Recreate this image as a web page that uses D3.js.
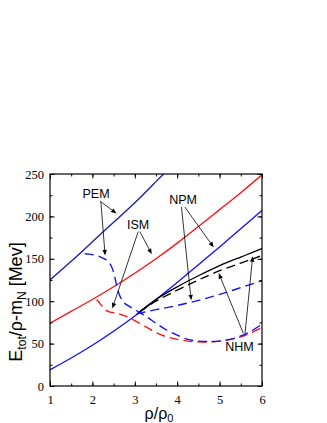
<!DOCTYPE html>
<html><head><meta charset="utf-8">
<script src="https://cdn.jsdelivr.net/npm/d3@7"></script>
<style>body{margin:0;background:#fff}svg{display:block}</style>
</head><body>
<script>
// ---- data ----
const xTicks = [1,2,3,4,5,6];
const yTicks = [0,50,100,150,200,250];
const pemSolidX = [1,1.5,2,2.5,3,3.5,3.72];
const pemSolidY = [125,147,170,193,216,241,252];
const ismSolidX = [1,1.5,2,2.5,3,3.5,4,4.5,5,5.5,6];
const ismSolidY = [74,88,102,117,133,150,168.5,188,208,228,249];
const npmSolidX = [1,1.5,2,2.5,3,3.5,4,4.5,5,5.5,6];
const npmSolidY = [19,33,48,64.5,82.5,102,122,143,164,185.5,207];
const nhmSolidX = [3.05,3.5,4,4.5,5,5.5,6];
const nhmSolidY = [85,102,117,130,142,152,162];
const nhmDashX = [3.1,3.5,4,4.5,5,5.5,5.95];
const nhmDashY = [87,100,113,125,136,145,153];
const npmDashX = [3.05,3.5,4,4.5,5,5.5,6];
const npmDashY = [85,90,95,101,108,116,124];
const pemDashX = [1.82,2.0,2.2,2.35,2.45,2.52,2.58,2.65,2.75,2.9,3.1,3.3,3.5,3.75,4.0,4.25,4.5,4.75,5.0,5.25,5.5,5.75,6.0];
const pemDashY = [156,155,152,148,141,130,117,106,98,93,87,81,74,66,60,55,53,52.5,53,55,59,65,73];
const ismDashX = [2.1,2.2,2.3,2.4,2.6,2.8,3.0,3.25,3.5,3.75,4.0,4.25,4.5,4.75,5.0,5.25,5.5,5.75,6.0];
const ismDashY = [102,96,90,87.5,85.5,82,77,70,63,58,55,53,52,52,53,55,58,63,69];
// annotation labels (data coords) and arrows [x0,y0,x1,y1]
const labels = ["PEM","ISM","NPM","NHM"];
const labelX = [2.085,3.08,4.14,5.47];
const labelY = [227,191,220.5,47];
const arrows = [
  [2.18,218,2.57,203.5],[2.2,217,2.3,154],
  [3.08,182,2.47,91.5],[3.12,182,3.4,155.5],
  [4.1,211,4.33,101],[4.18,211,4.86,163.5],
  [5.56,62,4.98,133],[5.6,62,5.78,153]
];

// ---- layout ----
const W=327,H=423;
const L=50,R=262,T=174,B=386;
const svg=d3.select("body").append("svg").attr("width",W).attr("height",H);
const x=d3.scaleLinear().domain([1,6]).range([L,R]);
const y=d3.scaleLinear().domain([0,250]).range([B,T]);
svg.append("clipPath").attr("id","c").append("rect").attr("x",L).attr("y",T).attr("width",R-L).attr("height",B-T);
const g=svg.append("g").attr("clip-path","url(#c)");
const lineSmooth=d3.line().x(d=>x(d[0])).y(d=>y(d[1])).curve(d3.curveNatural);
const lineCR=d3.line().x(d=>x(d[0])).y(d=>y(d[1])).curve(d3.curveCatmullRom.alpha(0.5));
function draw(xs,ys,color,dash,gen){
  g.append("path").datum(xs.map((v,i)=>[v,ys[i]])).attr("d",gen||lineSmooth)
   .attr("fill","none").attr("stroke",color).attr("stroke-width",1.35)
   .attr("stroke-dasharray",dash||null);
}
draw(pemSolidX,pemSolidY,"#1c1cb0");
draw(ismSolidX,ismSolidY,"#ff1010");
draw(npmSolidX,npmSolidY,"#1010ff");
draw(nhmDashX,nhmDashY,"#000","9,5");
draw(nhmSolidX,nhmSolidY,"#000");
draw(npmDashX,npmDashY,"#1010ff","9,5");
draw(ismDashX,ismDashY,"#ff1010","9,5",lineCR);
draw(pemDashX,pemDashY,"#1010ff","9,5",lineCR);

// axes box and ticks
function axis(gen,tr){
  svg.append("g").attr("transform",tr).call(gen)
    .call(s=>s.select(".domain").remove());
}
const tf="Liberation Serif, Times New Roman, serif";
const xMinor=d3.range(1,6.01,0.5), yMinor=d3.range(0,250.1,25);
axis(d3.axisBottom(x).tickValues(xMinor).tickSize(-2.5).tickFormat(""),`translate(0,${B})`);
axis(d3.axisTop(x).tickValues(xMinor).tickSize(-2.5).tickFormat(""),`translate(0,${T})`);
axis(d3.axisLeft(y).tickValues(yMinor).tickSize(-2.5).tickFormat(""),`translate(${L},0)`);
axis(d3.axisRight(y).tickValues(yMinor).tickSize(-2.5).tickFormat(""),`translate(${R},0)`);
const xb=svg.append("g").attr("transform",`translate(0,${B})`).call(d3.axisBottom(x).tickValues(xTicks).tickSize(-4.5).tickPadding(9).tickFormat(d3.format("d")));
xb.select(".domain").remove();
const yl=svg.append("g").attr("transform",`translate(${L},0)`).call(d3.axisLeft(y).tickValues(yTicks).tickSize(-4.5).tickPadding(6).tickFormat(d3.format("d")));
yl.select(".domain").remove();
svg.append("g").attr("transform",`translate(0,${T})`).call(d3.axisTop(x).tickValues(xTicks).tickSize(-4.5).tickFormat("")).select(".domain").remove();
svg.append("g").attr("transform",`translate(${R},0)`).call(d3.axisRight(y).tickValues(yTicks).tickSize(-4.5).tickFormat("")).select(".domain").remove();
svg.selectAll(".tick text").attr("font-family",tf).attr("font-size",12.5).attr("fill","#000");
svg.selectAll(".tick line").attr("stroke","#000").attr("stroke-width",1);
svg.append("rect").attr("x",L).attr("y",T).attr("width",R-L).attr("height",B-T)
  .attr("fill","none").attr("stroke","#000").attr("stroke-width",1.2);

// annotations
const af="Liberation Sans, Arial, sans-serif";
labels.forEach((t,i)=>{
  svg.append("text").attr("x",x(labelX[i])).attr("y",y(labelY[i])).attr("dy","0.36em")
    .attr("text-anchor","middle").attr("font-family",af).attr("font-size",12.5).text(t);
});
arrows.forEach(a=>{
  const x0=x(a[0]),y0=y(a[1]),x1=x(a[2]),y1=y(a[3]);
  const ang=Math.atan2(y1-y0,x1-x0), len=5.5, w=2.2;
  const bx=x1-len*Math.cos(ang), by=y1-len*Math.sin(ang);
  svg.append("line").attr("x1",x0).attr("y1",y0).attr("x2",bx).attr("y2",by)
    .attr("stroke","#000").attr("stroke-width",0.8);
  const px=-Math.sin(ang)*w, py=Math.cos(ang)*w;
  svg.append("path").attr("d",`M${x1},${y1}L${bx+px},${by+py}L${bx-px},${by-py}Z`).attr("fill","#000");
});

// axis titles
const yt=svg.append("text").attr("transform",`translate(22,${302}) rotate(-90)`)
  .attr("text-anchor","middle").attr("font-family",af).attr("font-size",18);
yt.append("tspan").text("E");
yt.append("tspan").attr("font-size",12).attr("dy",4).text("tot");
yt.append("tspan").attr("dy",-4).text("/ρ-m");
yt.append("tspan").attr("font-size",12).attr("dy",4).text("N");
yt.append("tspan").attr("dy",-4).text(" [Mev]");
const xt=svg.append("text").attr("x",159).attr("y",419).attr("text-anchor","middle")
  .attr("font-family",af).attr("font-size",16);
xt.append("tspan").text("ρ/ρ");
xt.append("tspan").attr("font-size",11).attr("dy",3).text("0");
</script>
</body></html>
